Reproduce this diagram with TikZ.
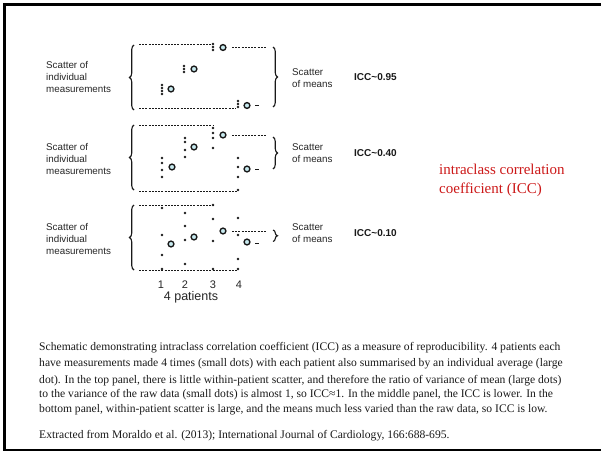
\documentclass[tikz,border=0pt]{standalone}
\usepackage{fontspec}
\setmainfont{Liberation Serif}
\setsansfont{Liberation Sans}
\usetikzlibrary{decorations.pathreplacing}
\definecolor{icred}{RGB}{204,24,24}
\definecolor{cfill}{RGB}{200,235,240}
\newcommand\dotcolumn[2]{\foreach \yy in {#2} \fill[black!90] (#1,\yy) circle (1.35pt);}
\begin{document}
\begin{tikzpicture}[x=1pt,y=-1pt,
  lab/.style={font=\sffamily\fontsize{9.8}{11.6}\selectfont,align=left,inner sep=0pt,text=black!85},
  icc/.style={font=\sffamily\bfseries\fontsize{10}{12}\selectfont,inner sep=0pt,text=black!90},
  captxt/.style={font=\fontsize{11.6}{13}\selectfont,inner sep=0pt,text=black!90,anchor=west},
  redtxt/.style={font=\fontsize{15}{19}\selectfont,inner sep=0pt,text=icred,align=left},
  dline/.style={line width=1pt,dash pattern=on 2pt off 1.2pt,black!90},
  brc/.style={line width=1.1pt,black!90,decorate,decoration={brace,amplitude=4.5pt}},
  mean/.style={line width=1.4pt,draw=black!90,fill=cfill}]
\useasboundingbox (0,0) rectangle (601,452);
% frame
\draw[line width=2.4pt] (601,4.5) -- (4.5,4.5) -- (4.5,450);
\draw[line width=1.6pt] (3.3,450) -- (601,450);

% ---------- top panel ----------
\draw[brc] (134,110) -- (134,45);
\draw[brc] (273,47) -- (273,107);
\draw[dline] (139,45) -- (211,45);
\draw[dline] (232,47.5) -- (267,47.5);
\draw[dline] (139,108) -- (236,108);
\draw[line width=1pt,black!90] (255,105.5) -- (259,105.5);
\dotcolumn{213}{44,47,50}
\dotcolumn{184}{66,69,72}
\dotcolumn{162}{85,88,91,94}
\dotcolumn{238}{101,104,107}
\draw[mean] (223,47.5) circle (2.9pt);
\draw[mean] (194,69) circle (2.9pt);
\draw[mean] (171,89) circle (2.9pt);
\draw[mean] (247,105.5) circle (2.9pt);

% ---------- middle panel ----------
\draw[brc] (134,190) -- (134,125);
\draw[brc] (273,137) -- (273,169);
\draw[dline] (139,125) -- (213,125);
\draw[dline] (232,135) -- (266,135);
\draw[dline] (139,191) -- (238,191);
\draw[line width=1pt,black!90] (255,169) -- (259,169);
\dotcolumn{213}{128,133,138,148}
\dotcolumn{185}{138,142,150,157}
\dotcolumn{162}{158,163,170,177}
\dotcolumn{238}{158,167,177,190}
\draw[mean] (223,135) circle (2.9pt);
\draw[mean] (194,147) circle (2.9pt);
\draw[mean] (172,167) circle (2.9pt);
\draw[mean] (247,169) circle (2.9pt);

% ---------- bottom panel ----------
\draw[brc] (134,270) -- (134,205);
\draw[brc] (273,230) -- (273,241.5);
\draw[dline] (139,205) -- (213,205);
\draw[dline] (232,231) -- (266,231);
\draw[dline] (139,270) -- (238,270);
\draw[line width=1pt,black!90] (255,243) -- (259,243);
\dotcolumn{162}{208,235,255,269}
\dotcolumn{185}{213,226,240,264}
\dotcolumn{213}{205,219,241,269}
\dotcolumn{238}{218,235,259,269}
\draw[mean] (171,244) circle (2.9pt);
\draw[mean] (194,237) circle (2.9pt);
\draw[mean] (223,231) circle (2.9pt);
\draw[mean] (247,242) circle (2.9pt);

% axis labels
\node[font=\sffamily\fontsize{11}{13}\selectfont,inner sep=0pt,text=black!85] (n1) at (161,285) {1};
\node[font=\sffamily\fontsize{11}{13}\selectfont,inner sep=0pt,text=black!85] (n2) at (185,285) {2};
\node[font=\sffamily\fontsize{11}{13}\selectfont,inner sep=0pt,text=black!85] (n3) at (213,285) {3};
\node[font=\sffamily\fontsize{11}{13}\selectfont,inner sep=0pt,text=black!85] (n4) at (239,285) {4};
\node[font=\sffamily\fontsize{12.5}{14}\selectfont,inner sep=0pt,text=black!85] (pat) at (191,297.5) {4 patients};

% left labels
\node[lab,anchor=west] (L1) at (46,77) {Scatter of\\individual\\measurements};
\node[lab,anchor=west] (L2) at (46,159) {Scatter of\\individual\\measurements};
\node[lab,anchor=west] (L3) at (46,239) {Scatter of\\individual\\measurements};
% right labels
\node[lab,anchor=west] (R1) at (292,78) {Scatter\\of means};
\node[lab,anchor=west] (R2) at (292,153) {Scatter\\of means};
\node[lab,anchor=west] (R3) at (292,233) {Scatter\\of means};
\node[icc,anchor=west] (I1) at (354,77) {ICC\textasciitilde0.95};
\node[icc,anchor=west] (I2) at (354,153) {ICC\textasciitilde0.40};
\node[icc,anchor=west] (I3) at (354,233) {ICC\textasciitilde0.10};

% red title
\node[redtxt,anchor=west] (title) at (439,180.5) {intraclass correlation\\coefficient (ICC)};

% caption
\node[captxt] (c1) at (39,348) {Schematic demonstrating intraclass correlation coefficient (ICC) as a measure of reproducibility. 4 patients each};
\node[captxt] (c2) at (39,364) {have measurements made 4 times (small dots) with each patient also summarised by an individual average (large};
\node[captxt] (c3) at (39,381) {dot). In the top panel, there is little within-patient scatter, and therefore the ratio of variance of mean (large dots)};
\node[captxt] (c4) at (39,395) {to the variance of the raw data (small dots) is almost 1, so ICC≈1. In the middle panel, the ICC is lower. In the};
\node[captxt] (c5) at (39,409.5) {bottom panel, within-patient scatter is large, and the means much less varied than the raw data, so ICC is low.};
\node[captxt] (c6) at (39,436) {Extracted from Moraldo et al. (2013); International Journal of Cardiology, 166:688-695.};
\end{tikzpicture}
\end{document}
